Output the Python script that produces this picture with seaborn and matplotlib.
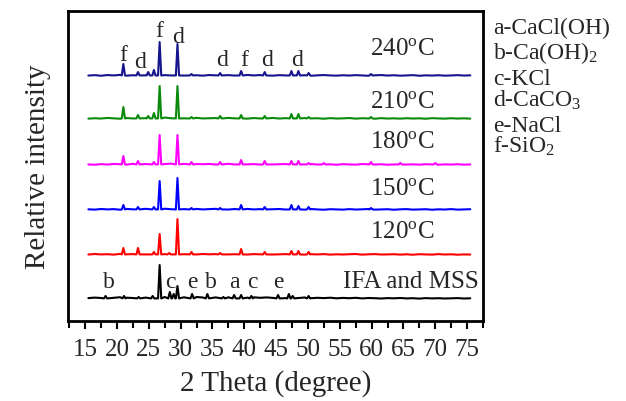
import numpy as np
import pandas as pd
import seaborn as sns
import matplotlib.pyplot as plt
from matplotlib.ticker import MultipleLocator

# baseline sampling grid (2 theta, degree)
grid = np.arange(15.5, 76.0, 1.0)

# baseline wiggle (61 values per trace)
base_240 = [0.5, 0.9, 0.3, 1.0, 0.6, 1.2, 0.4, 0.8, 1.3, 0.7,
            1.1, 1.4, 0.9, 0.6, 1.0, 0.5, 1.2, 0.8, 0.4, 1.0,
            0.7, 1.3, 0.9, 0.5, 0.8, 1.1, 0.6, 1.0, 0.7, 0.4,
            0.9, 0.6, 1.1, 0.5, 0.8, 0.3, 0.7, 1.0, 0.6, 0.4,
            0.8, 0.5, 0.9, 0.6, 0.3, 0.7, 1.0, 0.5, 0.8, 0.4,
            0.6, 0.9, 0.3, 0.7, 0.5, 0.8, 0.4, 0.6, 0.9, 0.5,
            0.7]
base_210 = [0.4, 0.8, 0.5, 1.1, 0.7, 0.3, 1.0, 0.6, 1.2, 0.9,
            1.3, 1.0, 1.5, 0.8, 1.1, 0.7, 0.9, 1.2, 0.6, 0.8,
            1.0, 0.5, 1.1, 0.7, 0.9, 0.4, 1.0, 0.6, 0.8, 1.1,
            0.5, 0.9, 0.7, 0.4, 1.0, 0.6, 0.8, 0.3, 0.9, 0.5,
            0.7, 1.0, 0.4, 0.8, 0.6, 0.3, 0.9, 0.5, 0.7, 0.4,
            0.8, 0.5, 0.7, 0.3, 0.9, 0.6, 0.4, 0.8, 0.5, 0.7,
            0.4]
base_180 = [0.6, 0.3, 0.9, 0.5, 1.1, 0.8, 0.4, 1.2, 0.7, 1.0,
            0.8, 1.3, 1.0, 1.4, 0.9, 1.2, 0.6, 1.0, 0.8, 1.1,
            0.5, 0.9, 1.2, 0.6, 1.0, 0.7, 0.9, 0.5, 1.1, 0.6,
            0.8, 1.0, 0.4, 0.9, 0.6, 1.0, 0.5, 0.8, 0.7, 0.3,
            0.9, 0.6, 0.4, 1.0, 0.7, 0.5, 0.8, 0.3, 0.6, 0.9,
            0.5, 0.7, 0.4, 0.8, 0.6, 0.3, 0.7, 0.5, 0.8, 0.4,
            0.6]
base_150 = [0.7, 0.4, 1.0, 0.6, 0.9, 0.3, 1.1, 0.7, 0.5, 1.2,
            0.9, 1.1, 1.3, 0.8, 1.2, 0.9, 0.7, 1.1, 0.6, 0.9,
            1.2, 0.8, 0.5, 1.0, 0.7, 1.1, 0.6, 0.9, 0.4, 0.8,
            1.0, 0.5, 0.9, 0.7, 0.4, 1.0, 0.6, 0.3, 0.8, 0.6,
            0.4, 0.9, 0.5, 0.7, 1.0, 0.4, 0.6, 0.8, 0.3, 0.7,
            0.9, 0.4, 0.6, 0.8, 0.3, 0.7, 0.5, 0.9, 0.4, 0.6,
            0.8]
base_120 = [0.5, 1.0, 0.6, 0.8, 0.4, 1.1, 0.7, 0.9, 1.2, 0.6,
            1.0, 1.2, 0.9, 1.3, 1.0, 0.8, 1.1, 0.6, 1.0, 0.7,
            0.9, 1.1, 0.6, 0.8, 1.0, 0.5, 0.9, 0.7, 1.0, 0.5,
            0.7, 0.9, 0.6, 1.0, 0.4, 0.8, 0.6, 0.9, 0.4, 0.7,
            0.5, 0.8, 1.0, 0.4, 0.7, 0.9, 0.5, 0.6, 0.8, 0.4,
            0.7, 0.3, 0.8, 0.6, 0.4, 0.9, 0.5, 0.7, 0.3, 0.6,
            0.5]
base_ifa = [0.9, 1.4, 1.0, 1.6, 1.2, 1.8, 1.3, 1.0, 1.7, 1.4,
            1.9, 1.5, 2.0, 1.6, 2.1, 1.7, 1.4, 2.0, 1.5, 1.9,
            1.6, 2.1, 1.7, 1.3, 1.8, 1.4, 1.7, 1.2, 1.6, 1.1,
            1.4, 0.9, 1.3, 1.0, 1.5, 0.8, 1.2, 0.9, 1.3, 0.7,
            1.1, 0.8, 1.2, 0.6, 1.0, 0.8, 0.5, 0.9, 0.7, 1.0,
            0.6, 0.8, 0.4, 0.9, 0.6, 0.8, 0.5, 0.7, 0.9, 0.5,
            0.7]

# diffraction peaks: position (degree) and height above baseline
pos_240 = [21.0, 23.3, 24.9, 25.8, 26.7, 29.5, 31.7, 36.2, 39.5, 43.2, 47.4, 48.5, 50.1, 59.9]
hgt_240 = [12, 4, 4, 6, 34, 32, 2, 3, 5, 4, 5, 5, 3, 2]
pos_210 = [21.0, 23.3, 24.9, 25.8, 26.7, 29.5, 31.7, 36.2, 39.5, 43.2, 47.4, 48.5, 50.1, 59.9]
hgt_210 = [12, 4, 3, 6, 33, 33, 2, 3, 4, 3, 5, 5, 2, 2]
pos_180 = [21.0, 23.3, 25.8, 26.7, 29.5, 31.7, 36.2, 39.5, 43.2, 47.4, 48.5, 50.1, 52.5, 59.9, 64.5, 70.0]
hgt_180 = [9, 4, 3, 30, 30, 3, 3, 5, 4, 4, 4, 2, 2, 3, 2, 2]
pos_150 = [21.0, 23.3, 25.8, 26.7, 29.5, 31.7, 36.2, 39.5, 43.2, 47.4, 48.5, 50.1, 59.9]
hgt_150 = [5, 3, 3, 29, 32, 2, 2, 5, 3, 5, 4, 3, 2]
pos_120 = [21.0, 23.3, 25.8, 26.7, 28.2, 29.5, 31.7, 36.2, 39.5, 43.2, 47.4, 48.5, 50.1]
hgt_120 = [7, 7, 3, 21, 2, 36, 3, 2, 6, 3, 4, 4, 3]
pos_ifa = [18.2, 21.1, 23.4, 25.6, 26.7, 28.3, 28.9, 29.5, 31.8, 34.2, 36.7, 38.4, 39.5, 41.1, 45.3, 47.0, 47.6, 50.1]
hgt_ifa = [3, 3, 2, 3, 34, 7, 5, 13, 5, 5, 2, 4, 4, 3, 4, 5, 3, 3]

samples = ['IFA and MSS', '120', '150', '180', '210', '240']
offsets = [0, 44, 89, 134, 180, 223]
colors = ['black', '#ff0000', '#0000ff', '#ff00ff', '#0a8a0a', '#14148c']
bases = [base_ifa, base_120, base_150, base_180, base_210, base_240]
positions = [pos_ifa, pos_120, pos_150, pos_180, pos_210, pos_240]
heights = [hgt_ifa, hgt_120, hgt_150, hgt_180, hgt_210, hgt_240]


def pattern(name, offset, base, pos, hgt):
    keep = [min(abs(x - p) for p in pos) > 0.35 for x in grid]
    xs = [x for x, k in zip(grid, keep) if k]
    ys = [b for b, k in zip(base, keep) if k]
    for p, h in zip(pos, hgt):
        xs += [p - 0.25, p, p + 0.25]
        ys += [0.6, h, 0.6]
    df = pd.DataFrame({'two_theta': xs, 'intensity': ys}).sort_values('two_theta')
    df['intensity'] = df['intensity'] + offset
    df['sample'] = name
    return df


data = pd.concat([pattern(*a) for a in zip(samples, offsets, bases, positions, heights)],
                 ignore_index=True)

sns.set_style('ticks')
plt.rcParams['font.family'] = ['Liberation Serif', 'DejaVu Serif']
plt.rcParams['mathtext.fontset'] = 'custom'
plt.rcParams['mathtext.rm'] = 'Liberation Serif'
plt.rcParams['mathtext.it'] = 'Liberation Serif:italic'

fig = plt.figure(figsize=(6.26, 4.02), dpi=100)
ax = fig.add_axes([0.1086, 0.199, 0.663, 0.771])

sns.lineplot(data=data, x='two_theta', y='intensity', hue='sample',
             palette=dict(zip(samples, colors)), estimator=None, sort=False,
             linewidth=1.5, legend=False, ax=ax)

ax.set_xlim(12.3, 77.5)
ax.set_ylim(-22, 288)
ax.xaxis.set_minor_locator(MultipleLocator(2.5))
ax.set_xticks(range(15, 80, 5))
ax.set_yticks([])
ax.tick_params(axis='x', which='major', direction='out', length=6, width=1.5,
               labelsize=18, pad=6, color='black')
ax.tick_params(axis='x', which='minor', direction='out', length=5, width=1.5, color='black')
for s in ax.spines.values():
    s.set_linewidth(2)
    s.set_color('black')

ax.set_xlabel('2 Theta (degree)', fontsize=21, labelpad=7)
ax.set_ylabel('Relative intensity', fontsize=21, labelpad=12)

# temperature labels
temp_text = ['IFA and MSS', '120$^\\mathrm{o}$C', '150$^\\mathrm{o}$C',
             '180$^\\mathrm{o}$C', '210$^\\mathrm{o}$C', '240$^\\mathrm{o}$C']
temp_y = [12, 62, 105, 152, 192, 245]
temp_x = [66.1, 64.8, 64.8, 64.8, 64.8, 64.8]
for t, x, y in zip(temp_text, temp_x, temp_y):
    ax.text(x, y, t, fontsize=18, ha='center', va='baseline')

# phase letters
top_letters = ['f', 'd', 'f', 'd', 'd', 'f', 'd', 'd']
top_x = [21.0, 23.6, 26.7, 29.6, 36.5, 40.0, 43.6, 48.3]
top_y = [239, 232, 263, 257, 234, 234, 234, 234]
for t, x, y in zip(top_letters, top_x, top_y):
    ax.text(x, y, t, fontsize=17, ha='center', va='baseline')

ifa_letters = ['b', 'c', 'e', 'b', 'a', 'c', 'e']
ifa_x = [18.7, 28.4, 31.9, 34.8, 38.5, 41.2, 45.4]
for t, x in zip(ifa_letters, ifa_x):
    ax.text(x, 12, t, fontsize=17, ha='center', va='baseline')

# phase key on the right
key_text = ['a-CaCl(OH)', 'b-Ca(OH)$_2$', 'c-KCl', 'd-CaCO$_3$', 'e-NaCl', 'f-SiO$_2$']
key_y = [34, 59, 85, 107, 132, 153]
for t, y in zip(key_text, key_y):
    fig.text(493 / 626, 1 - y / 402, t, fontsize=17, ha='left', va='baseline')

fig.savefig('out.png', dpi=100)
